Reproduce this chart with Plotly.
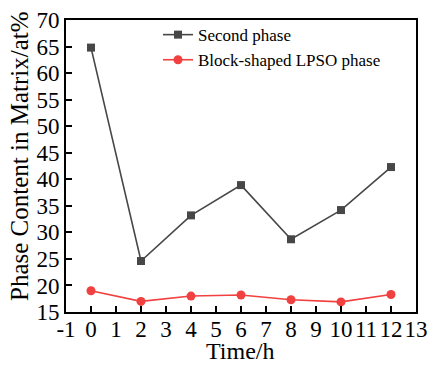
import plotly.graph_objects as go

time_h = [0, 2, 4, 6, 8, 10, 12]
second_phase = [64.8, 24.6, 33.2, 38.9, 28.7, 34.2, 42.3]
lpso_phase = [19.0, 17.0, 18.0, 18.2, 17.3, 16.9, 18.3]
x_ticks = list(range(-1, 14))
y_ticks = list(range(15, 71, 5))
x_title = "Time/h"
y_title = "Phase Content in Matrix/at%"

W, H = 427, 365
ml, mr, mt, mb = 66, 11, 20, 53
pw, ph = W - ml - mr, H - mt - mb

fig = go.Figure()
fig.add_trace(go.Scatter(
    x=time_h, y=second_phase, mode="lines+markers", name="Second phase",
    line=dict(color="#474747", width=1.6),
    marker=dict(symbol="square", size=8, color="#474747"),
))
fig.add_trace(go.Scatter(
    x=time_h, y=lpso_phase, mode="lines+markers", name="Block-shaped LPSO phase",
    line=dict(color="#f04040", width=1.6),
    marker=dict(symbol="circle", size=9, color="#f04040"),
))

font = "Liberation Serif, Times New Roman, serif"
fig.update_layout(
    width=W, height=H,
    margin=dict(l=ml, r=mr, t=mt, b=mb),
    paper_bgcolor="white", plot_bgcolor="white",
    font=dict(family=font, color="black", size=23),
    showlegend=True,
    legend=dict(
        x=(158 - ml) / pw, y=1.01, xanchor="left", yanchor="top",
        bgcolor="rgba(0,0,0,0)", font=dict(family=font, size=17, color="black"),
        tracegroupgap=0, itemwidth=30,
    ),
    xaxis=dict(
        range=[-1, 13], tickmode="array", tickvals=x_ticks,
        ticktext=[str(v) for v in x_ticks], tickangle=0,
        ticklabeloverflow="allow", ticklabelstandoff=-5,
        ticks="inside", ticklen=6, tickwidth=1.5, tickcolor="black",
        showline=True, linecolor="black", linewidth=2, mirror=True,
        showgrid=False, zeroline=False, automargin=False,
        tickfont=dict(size=23),
    ),
    yaxis=dict(
        range=[15, 70], tickmode="array", tickvals=y_ticks,
        ticklabeloverflow="allow",
        ticks="inside", ticklen=6, tickwidth=1.5, tickcolor="black",
        showline=True, linecolor="black", linewidth=2, mirror=True,
        showgrid=False, zeroline=False, automargin=False,
        tickfont=dict(size=23),
    ),
    annotations=[
        dict(text=x_title, xref="paper", yref="paper",
             x=(240 - ml) / pw, y=(mt + ph - 351) / ph,
             xanchor="center", yanchor="middle", showarrow=False,
             font=dict(family=font, size=24, color="black")),
        dict(text=y_title, xref="paper", yref="paper",
             x=(19 - ml) / pw, y=(mt + ph - 156) / ph, textangle=-90,
             xanchor="center", yanchor="middle", showarrow=False,
             font=dict(family=font, size=25, color="black")),
    ],
)

fig.write_html("out.html")
